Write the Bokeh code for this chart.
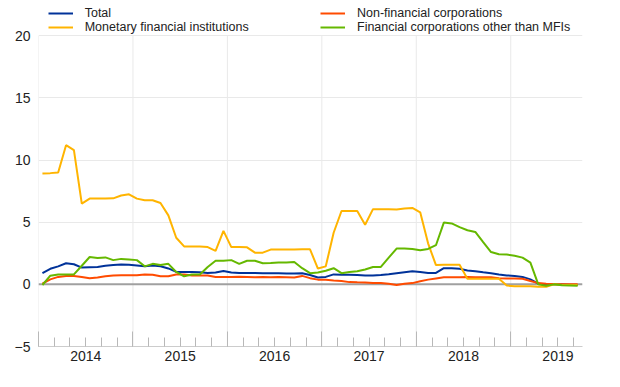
from bokeh.plotting import figure
from bokeh.models import FixedTicker, LinearAxis, Span, Legend, LegendItem
from bokeh.embed import file_html
from bokeh.resources import INLINE

# ---- data (monthly, Jan 2014 - Sep 2019) ----
start_year = 2014
years = [2014, 2015, 2016, 2017, 2018, 2019]
year_labels = ["2014", "2015", "2016", "2017", "2018", "2019"]
y_ticks = [-5, 0, 5, 10, 15, 20]

total = [0.9, 1.25, 1.45, 1.7, 1.62, 1.35, 1.38, 1.4, 1.5, 1.55, 1.6, 1.58,
         1.52, 1.45, 1.52, 1.45, 1.28, 1.0, 1.0, 1.0, 0.98, 0.92, 0.95, 1.07,
         0.95, 0.92, 0.92, 0.92, 0.9, 0.9, 0.9, 0.88, 0.88, 0.9, 0.75, 0.55,
         0.6, 0.8, 0.78, 0.77, 0.75, 0.72, 0.72, 0.75, 0.82, 0.9, 0.98, 1.05,
         1.0, 0.92, 0.92, 1.3, 1.3, 1.25, 1.12, 1.05, 0.97, 0.9, 0.8, 0.72,
         0.68, 0.6, 0.4, 0.05, 0.0, 0.0, -0.02, -0.05, -0.05]

nfc = [0.05, 0.4, 0.6, 0.67, 0.67, 0.6, 0.5, 0.55, 0.65, 0.72, 0.73, 0.73,
       0.73, 0.8, 0.78, 0.65, 0.65, 0.8, 0.8, 0.72, 0.72, 0.72, 0.6, 0.6,
       0.6, 0.62, 0.6, 0.58, 0.6, 0.58, 0.6, 0.58, 0.55, 0.68, 0.5, 0.38,
       0.38, 0.32, 0.27, 0.18, 0.16, 0.15, 0.1, 0.1, 0.05, -0.05, 0.05, 0.1,
       0.25, 0.38, 0.48, 0.58, 0.58, 0.58, 0.6, 0.58, 0.58, 0.58, 0.5, 0.48,
       0.47, 0.45, 0.27, 0.1, 0.05, 0.02, 0.0, 0.0, 0.0]

mfi = [8.93, 8.95, 9.0, 11.2, 10.8, 6.5, 6.9, 6.9, 6.9, 6.92, 7.15, 7.25,
       6.9, 6.77, 6.77, 6.55, 5.55, 3.75, 3.05, 3.05, 3.05, 3.0, 2.7, 4.3,
       3.0, 3.0, 2.98, 2.55, 2.55, 2.8, 2.8, 2.8, 2.8, 2.82, 2.82, 1.27,
       1.45, 4.15, 5.9, 5.9, 5.9, 4.8, 6.05, 6.05, 6.05, 6.03, 6.1, 6.15,
       5.8, 3.3, 1.55, 1.58, 1.58, 1.58, 0.46, 0.46, 0.46, 0.46, 0.46, -0.1,
       -0.15, -0.15, -0.15, -0.2, -0.2, 0.0, -0.05, -0.05, -0.05]

ofc = [-0.05, 0.7, 0.8, 0.8, 0.8, 1.5, 2.2, 2.12, 2.17, 1.95, 2.05, 2.0,
       1.95, 1.45, 1.65, 1.55, 1.65, 1.0, 0.65, 0.8, 0.8, 1.4, 1.9, 1.9,
       1.95, 1.65, 1.9, 1.9, 1.7, 1.72, 1.75, 1.75, 1.8, 1.3, 0.9, 0.95,
       1.1, 1.3, 0.9, 1.0, 1.05, 1.2, 1.4, 1.4, 2.15, 2.88, 2.88, 2.85,
       2.75, 2.85, 3.15, 4.97, 4.9, 4.6, 4.35, 4.22, 3.4, 2.6, 2.42, 2.4,
       2.3, 2.15, 1.75, 0.0, -0.12, 0.0, -0.08, -0.1, -0.12]

series_names = ["Total", "Non-financial corporations",
                "Monetary financial institutions",
                "Financial corporations other than MFIs"]
colors = ["#003299", "#FF4B00", "#FFB400", "#65B800"]

# month positions (mid-month, in fractional years)
x = [start_year + (i + 0.5) / 12 for i in range(len(total))]

FONT = "Liberation Sans"
TXT = "#222222"
GRID = "#e9e9e9"

# frame runs to the top of the figure; the space above 20 holds the legend
p = figure(width=620, height=380, output_backend="svg", toolbar_location=None,
           x_range=(2014, 2019.76), y_range=(-5, 22.84),
           min_border_left=38, min_border_right=38,
           min_border_top=0, min_border_bottom=34)
p.outline_line_color = None
p.background_fill_color = "white"
p.border_fill_color = "white"

# y axis
p.yaxis.ticker = FixedTicker(ticks=y_ticks)
p.yaxis.axis_line_color = None
p.yaxis.major_tick_line_color = None
p.yaxis.minor_tick_line_color = None
p.yaxis.major_tick_out = 0
p.yaxis.minor_tick_out = 0
p.yaxis.major_label_text_font = FONT
p.yaxis.major_label_text_font_size = "14px"
p.yaxis.major_label_text_color = TXT
p.yaxis.major_label_standoff = 8

# x axis with tick marks (year boundaries + bimonthly minor ticks)
minor = [y + k / 12 for y in years for k in range(0, 12, 2)]
xa = p.xaxis[0]
xa.ticker = FixedTicker(ticks=years, minor_ticks=minor)
xa.major_label_overrides = {y: "" for y in years}
xa.major_label_text_font_size = "0px"
xa.major_label_standoff = 0
xa.major_tick_in = 15
xa.major_tick_out = 0
xa.minor_tick_in = 9
xa.minor_tick_out = 0
xa.major_tick_line_color = "#b8b8b8"
xa.minor_tick_line_color = "#b8b8b8"
xa.axis_line_color = "#cccccc"

# x axis with year labels centred in each year
mid = [y + 0.5 for y in years]
xl = LinearAxis(ticker=FixedTicker(ticks=mid, minor_ticks=[]),
                major_label_overrides={m: lab for m, lab in zip(mid, year_labels)},
                axis_line_color=None, major_tick_line_color=None,
                minor_tick_line_color=None, major_tick_out=0, major_tick_in=0,
                minor_tick_out=0, major_label_standoff=4, major_label_text_font=FONT,
                major_label_text_font_size="14px", major_label_text_color=TXT)
p.add_layout(xl, "below")

# grids: horizontal from the y axis; vertical year lines limited to -5..20
p.ygrid.grid_line_color = GRID
p.xgrid.grid_line_color = None
p.segment(x0=years, y0=[y_ticks[0]] * len(years), x1=years,
          y1=[y_ticks[-1]] * len(years), line_color=GRID, line_width=1,
          level="underlay")

# zero line
p.add_layout(Span(location=0, dimension="width", line_color="#a0a0a0",
                  line_width=2, level="underlay"))

# lines
rs = {}
for name, vals, c in zip(series_names, [total, nfc, mfi, ofc], colors):
    rs[name] = p.line(x, vals, line_color=c, line_width=2)


def make_legend(names, xloc):
    return Legend(items=[LegendItem(label=n, renderers=[rs[n]]) for n in names],
                  location=(xloc, 312), orientation="vertical",
                  glyph_width=25, glyph_height=14, label_height=14,
                  label_standoff=12, spacing=0, padding=0, margin=0,
                  border_line_color=None, background_fill_alpha=0,
                  label_text_font=FONT, label_text_font_size="12.5px",
                  label_text_color=TXT)


p.add_layout(make_legend(["Total", "Monetary financial institutions"], 9.7))
p.add_layout(make_legend(["Non-financial corporations",
                          "Financial corporations other than MFIs"], 282))

open("out.html", "w").write(file_html(p, INLINE))
